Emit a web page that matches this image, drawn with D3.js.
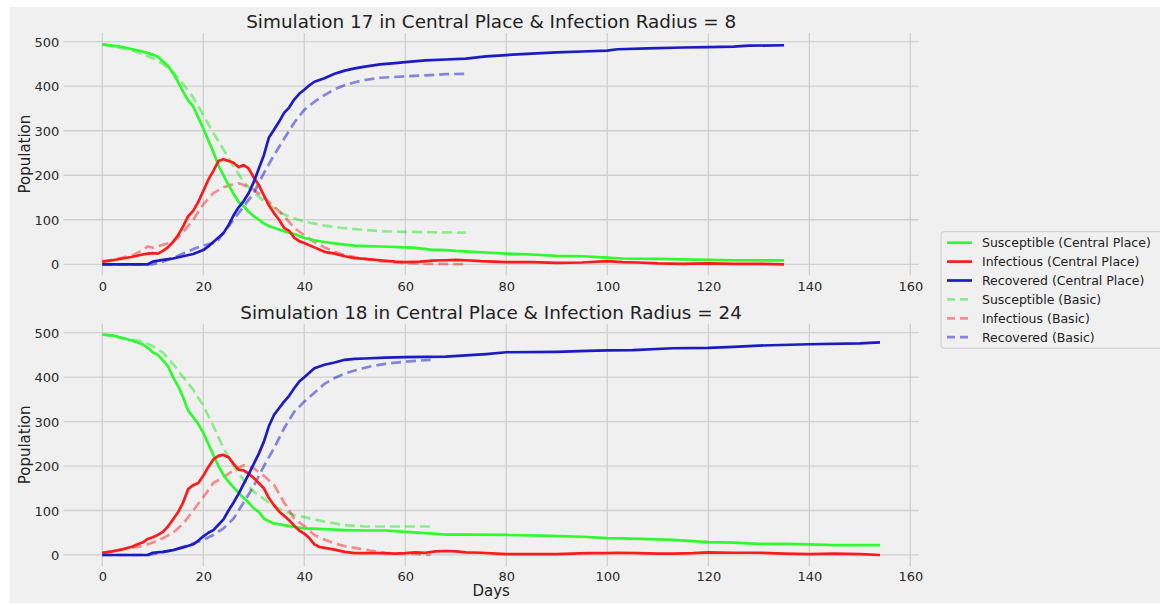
<!DOCTYPE html>
<html>
<head>
<meta charset="utf-8">
<script src="https://cdn.jsdelivr.net/npm/d3@7"></script>
<style>
  html, body { margin: 0; padding: 0; background: #ffffff; }
  svg { display: block; }
  text { font-family: "DejaVu Sans", sans-serif; }
</style>
</head>
<body>
<svg id="chart" width="1160" height="605"></svg>
<script>
// ---------------- DATA ----------------
const titles = [
  "Simulation 17 in Central Place & Infection Radius = 8",
  "Simulation 18 in Central Place & Infection Radius = 24"
];
const xTicks = [0, 20, 40, 60, 80, 100, 120, 140, 160];
const yTicks = [0, 100, 200, 300, 400, 500];
const seriesNames = [
  "Susceptible (Central Place)", "Infectious (Central Place)", "Recovered (Central Place)",
  "Susceptible (Basic)", "Infectious (Basic)", "Recovered (Basic)"
];

// Simulation 17 — [day, population]
const s17Central = [[0,494],[2,491],[4,488],[6,483],[8,478],[10,471],[11,466],[12,456],[13,446],[14,430],[15,410],[16,388],[17,368],[18,355],[19,330],[20,305],[21,278],[22,252],[23,222],[24,200],[25,178],[26,158],[27,140],[28,130],[29,118],[30,108],[31,100],[32,92],[33,86],[34,82],[35,78],[36,74],[38,68],[40,59],[42,54],[44,50],[46,47],[48,44],[50,42],[55,40],[60,38],[62,37],[65,33],[68,32],[70,30],[75,27],[80,24],[85,22],[90,19],[95,18],[100,15],[103,13],[110,12],[115,11],[120,10],[125,9],[130,9],[135,9]];
const i17Central = [[0,6],[2,9],[4,13],[6,17],[8,22],[9,24],[10,25],[11,24],[12,30],[13,38],[14,50],[15,65],[16,85],[17,108],[18,120],[19,140],[20,165],[21,190],[22,210],[23,232],[24,236],[25,232],[26,228],[27,218],[28,223],[29,215],[30,195],[31,178],[32,155],[33,132],[34,115],[35,100],[36,82],[37,75],[38,60],[39,52],[40,48],[42,38],[44,28],[46,24],[48,18],[50,14],[52,12],[55,9],[58,6],[60,5],[63,6],[65,8],[68,9],[70,10],[72,9],[75,7],[80,5],[85,5],[90,3],[95,4],[100,7],[103,5],[106,4],[110,2],[115,1],[120,2],[125,1],[130,1],[135,0]];
const r17Central = [[0,0],[9,0],[10,6],[12,10],[14,13],[16,18],[18,23],[20,32],[21,40],[22,50],[23,60],[24,70],[25,88],[26,110],[27,128],[28,142],[29,160],[30,185],[31,215],[32,245],[33,285],[34,302],[35,320],[36,340],[37,352],[38,370],[39,383],[40,392],[41,402],[42,410],[44,418],[46,428],[48,435],[50,440],[52,444],[55,449],[58,452],[60,454],[64,458],[68,460],[72,462],[76,467],[80,470],[85,473],[90,476],[95,478],[100,480],[102,483],[108,485],[115,487],[120,488],[125,489],[128,491],[135,492]];
const s17Basic = [[0,494],[2,490],[4,485],[6,480],[8,472],[10,463],[12,450],[14,432],[16,405],[18,375],[20,335],[22,295],[24,258],[26,220],[28,185],[30,162],[32,142],[34,126],[36,112],[38,103],[40,96],[44,87],[48,81],[52,77],[56,74],[60,73],[65,72],[72,71]];
const i17Basic = [[0,6],[2,10],[4,15],[6,20],[8,32],[9,40],[10,37],[12,44],[14,50],[16,72],[18,100],[20,135],[22,160],[24,173],[26,180],[27,182],[28,178],[30,168],[32,150],[34,130],[36,108],[38,82],[40,65],[42,50],[44,38],[46,28],[48,21],[50,16],[52,12],[55,7],[60,3],[65,1],[72,0]];
const r17Basic = [[0,0],[10,0],[12,6],[14,14],[16,24],[18,34],[20,42],[22,48],[23,55],[24,72],[25,85],[26,100],[28,130],[30,160],[32,205],[34,245],[36,282],[38,318],[40,347],[42,365],[44,380],[46,393],[48,402],[50,409],[52,414],[55,419],[60,422],[65,425],[68,427],[72,428]];

// Simulation 18 — [day, population]
const s18Central = [[0,496],[2,494],[4,488],[6,482],[8,474],[9,466],[10,456],[11,450],[12,438],[13,425],[14,400],[15,380],[16,355],[17,325],[18,310],[19,295],[20,275],[21,250],[22,225],[23,200],[24,180],[25,165],[26,152],[27,140],[28,128],[29,118],[30,105],[31,97],[32,82],[33,76],[34,71],[36,67],[38,63],[40,60],[44,58],[48,56],[52,55],[56,55],[60,52],[64,49],[68,46],[72,46],[80,45],[89,43],[95,41],[100,38],[105,37],[113,34],[120,29],[125,28],[130,25],[135,25],[140,24],[145,22],[154,22]];
const i18Central = [[0,5],[2,8],[4,13],[6,19],[7,24],[8,28],[9,36],[10,40],[11,45],[12,52],[13,64],[14,80],[15,96],[16,118],[17,148],[18,157],[19,162],[20,178],[21,198],[22,215],[23,223],[24,225],[25,220],[26,205],[27,192],[28,190],[29,183],[30,173],[31,162],[32,150],[33,128],[34,112],[35,98],[36,88],[37,78],[38,66],[39,55],[40,48],[41,38],[42,24],[43,18],[44,16],[46,12],[48,7],[50,4],[55,4],[58,3],[60,4],[62,6],[64,5],[66,8],[68,9],[70,8],[72,6],[75,5],[78,3],[80,2],[85,2],[90,2],[96,4],[100,4],[102,5],[106,4],[110,3],[113,3],[117,4],[120,6],[125,5],[130,5],[135,3],[140,2],[145,3],[150,2],[154,0]];
const r18Central = [[0,0],[9,0],[10,5],[12,7],[14,11],[16,17],[18,24],[19,32],[20,42],[21,50],[22,56],[23,68],[24,80],[25,100],[26,118],[27,138],[28,160],[29,182],[30,205],[31,228],[32,255],[33,290],[34,315],[35,330],[36,345],[37,358],[38,375],[39,390],[40,400],[41,410],[42,420],[44,428],[46,433],[48,439],[50,441],[52,442],[56,444],[60,445],[68,446],[72,449],[76,452],[80,456],[90,457],[96,459],[100,460],[105,461],[113,465],[120,466],[125,468],[130,471],[140,474],[150,476],[154,478]];
const s18Basic = [[0,496],[3,490],[6,484],[8,480],[10,470],[12,455],[14,430],[16,400],[18,372],[20,336],[22,290],[24,240],[26,200],[28,168],[30,142],[32,126],[34,110],[36,98],[38,90],[40,85],[44,75],[48,67],[52,64],[58,64],[65,64]];
const i18Basic = [[0,5],[3,10],[5,15],[8,20],[10,28],[12,38],[14,50],[16,70],[18,100],[20,130],[22,162],[24,175],[26,190],[28,202],[30,195],[32,178],[34,158],[36,118],[38,82],[40,65],[42,45],[44,35],[46,26],[48,20],[50,16],[53,10],[56,5],[60,3],[65,0]];
const r18Basic = [[0,0],[9,0],[11,4],[14,11],[17,22],[20,34],[22,45],[24,60],[26,82],[28,118],[30,155],[31,178],[32,200],[34,240],[36,285],[38,322],[40,345],[42,365],[44,385],[46,398],[48,408],[50,415],[53,424],[56,430],[60,435],[65,439]];

const panelSeries = [
  [s17Central, i17Central, r17Central, s17Basic, i17Basic, r17Basic],
  [s18Central, i18Central, r18Central, s18Basic, i18Basic, r18Basic]
];

// ---------------- STYLE ----------------
const styles = [
  {color: "#2cfb2c", dash: null, opacity: 1},
  {color: "#fc1a1a", dash: null, opacity: 1},
  {color: "#1c1cc6", dash: null, opacity: 1},
  {color: "#00e600", dash: "10,5", opacity: 0.42},
  {color: "#ff0000", dash: "10,5", opacity: 0.42},
  {color: "#0000c8", dash: "10,5", opacity: 0.45}
];

const svg = d3.select("#chart");
svg.append("rect").attr("x", 10).attr("y", 7).attr("width", 1150).attr("height", 596).attr("fill", "#f0f0f0");

const x = d3.scaleLinear().domain([-7.7, 161.7]).range([63.4, 918.9]);
const panels = [
  {y: d3.scaleLinear().domain([-24.75, 519.75]).range([275.3, 32.9]), titleY: 28},
  {y: d3.scaleLinear().domain([-24.8, 520]).range([566.0, 323.8]), titleY: 319}
];

panels.forEach((p, pi) => {
  const g = svg.append("g");
  const [y0, y1] = p.y.range();

  // grid
  g.append("g").selectAll("line").data(yTicks).join("line")
    .attr("x1", x.range()[0]).attr("x2", x.range()[1])
    .attr("y1", d => p.y(d)).attr("y2", d => p.y(d))
    .attr("stroke", "#d0d0d0").attr("stroke-width", 1.3);
  g.append("g").selectAll("line").data(xTicks).join("line")
    .attr("x1", d => x(d)).attr("x2", d => x(d))
    .attr("y1", y0).attr("y2", y1)
    .attr("stroke", "#d0d0d0").attr("stroke-width", 1.3);

  // axes labels (no domain, no tick marks)
  const ax = g.append("g").attr("transform", `translate(0,${y0})`)
    .call(d3.axisBottom(x).tickValues(xTicks).tickSize(0).tickPadding(6).tickFormat(d3.format("d")));
  const ay = g.append("g").attr("transform", `translate(${x.range()[0]},0)`)
    .call(d3.axisLeft(p.y).tickValues(yTicks).tickSize(0).tickPadding(4).tickFormat(d3.format("d")));
  [ax, ay].forEach(a => {
    a.select(".domain").remove();
    a.selectAll("text").attr("font-family", "DejaVu Sans").attr("font-size", 13).attr("fill", "#2a2a2a");
  });
  ay.selectAll("text").attr("dy", "0.36em");

  // lines
  const line = d3.line().x(d => x(d[0])).y(d => p.y(d[1]));
  const order = [3, 4, 5, 0, 1, 2];
  order.forEach(si => {
    const st = styles[si];
    g.append("path").datum(panelSeries[pi][si])
      .attr("d", line)
      .attr("fill", "none")
      .attr("stroke", st.color)
      .attr("stroke-opacity", st.opacity)
      .attr("stroke-width", 2.7)
      .attr("stroke-linejoin", "round")
      .attr("stroke-dasharray", st.dash);
  });

  // title
  g.append("text").attr("x", (x.range()[0] + x.range()[1]) / 2).attr("y", p.titleY)
    .attr("text-anchor", "middle").attr("font-size", 18.4).attr("fill", "#222")
    .text(titles[pi]);

  // y label
  g.append("text")
    .attr("transform", `translate(30,${(y0 + y1) / 2}) rotate(-90)`)
    .attr("text-anchor", "middle").attr("font-size", 15).attr("fill", "#222")
    .text("Population");
});

// x label
svg.append("text").attr("x", (x.range()[0] + x.range()[1]) / 2).attr("y", 596)
  .attr("text-anchor", "middle").attr("font-size", 15).attr("fill", "#222").text("Days");

// legend
const lg = svg.append("g");
lg.append("rect").attr("x", 941).attr("y", 231.7).attr("width", 230).attr("height", 116.5)
  .attr("rx", 3).attr("fill", "#f0f0f0").attr("stroke", "#cccccc").attr("stroke-width", 1);
const legY = [242.7, 261.6, 280.5, 299.4, 318.3, 337.2];
seriesNames.forEach((name, i) => {
  const st = styles[i];
  lg.append("line").attr("x1", 947).attr("x2", 972).attr("y1", legY[i]).attr("y2", legY[i])
    .attr("stroke", st.color).attr("stroke-opacity", st.opacity).attr("stroke-width", 2.7)
    .attr("stroke-dasharray", st.dash ? "8,5" : null);
  lg.append("text").attr("x", 982).attr("y", legY[i]).attr("dy", "0.36em")
    .attr("font-size", 12.5).attr("fill", "#222").text(name);
});
</script>
</body>
</html>
